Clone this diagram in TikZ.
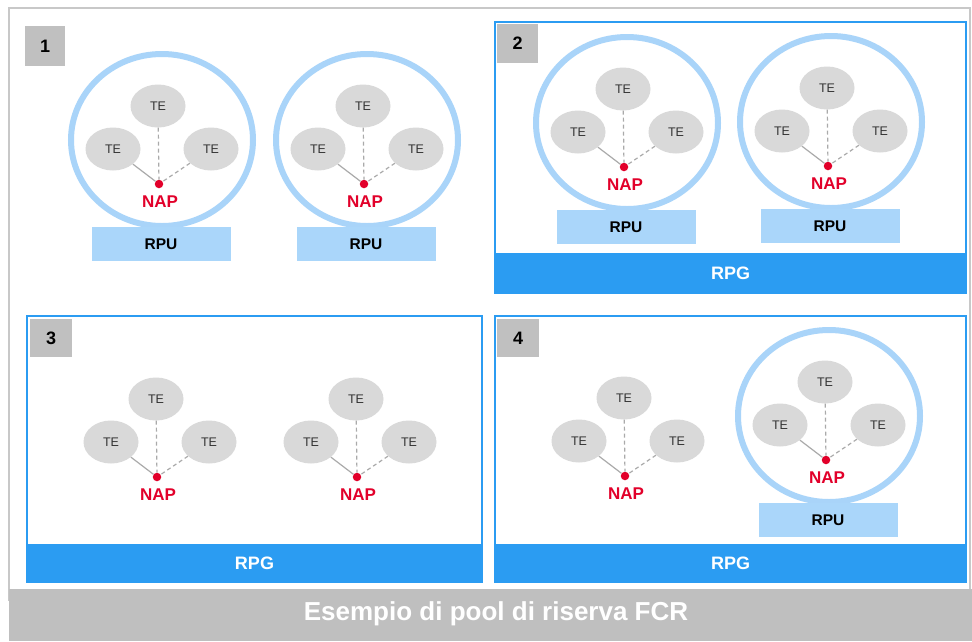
\documentclass[tikz,border=0pt]{standalone}
\usepackage{fontspec}
\setmainfont{Liberation Sans}
\usetikzlibrary{shapes.geometric}
\definecolor{rpgblue}{HTML}{2B9CF2}
\definecolor{ringblue}{HTML}{A9D4F9}
\definecolor{rpufill}{HTML}{AAD6FA}
\definecolor{labgray}{HTML}{C0C0C0}
\definecolor{titlegray}{HTML}{BFBFBF}
\definecolor{framegray}{HTML}{C8C8C8}
\definecolor{tegray}{HTML}{D9D9D9}
\definecolor{napred}{HTML}{E2002A}
\definecolor{linkgray}{HTML}{AAAAAA}
\tikzset{
  tenode/.style={ellipse, fill=tegray, minimum width=55pt, minimum height=43pt, inner sep=0pt,
    text=black!80, font=\fontsize{12.5}{13}\selectfont},
  napdot/.style={circle, fill=napred, minimum size=8.5pt, inner sep=0pt},
  naplabel/.style={text=napred, font=\fontsize{17}{18}\selectfont\bfseries, inner sep=0pt},
  linkline/.style={draw=linkgray, line width=1.2pt},
  dashline/.style={linkline, dash pattern=on 4pt off 3pt},
  ringshape/.style={ellipse, draw=ringblue, line width=6pt, minimum width=182pt, minimum height=172pt, inner sep=0pt},
  rpubox/.style={rectangle, fill=rpufill, minimum width=139pt, minimum height=34pt, inner sep=0pt,
    font=\fontsize{15.5}{16}\selectfont\bfseries},
  rpgbar/.style={rectangle, fill=rpgblue, inner sep=0pt, text=white, font=\fontsize{18}{19}\selectfont\bfseries},
  panelframe/.style={draw=rpgblue, line width=2.5pt, fill=white},
  numbox/.style={rectangle, fill=labgray, anchor=north west, inner sep=0pt, font=\fontsize{18}{19}\selectfont\bfseries},
}
\newcommand\tecl[3]{%
  \node[napdot] (#1nap) at (#2,#3) {};
  \node[tenode] (#1t) at ({#2-1},{#3-78}) {TE};
  \node[tenode] (#1l) at ({#2-46},{#3-35}) {TE};
  \node[tenode] (#1r) at ({#2+52},{#3-35}) {TE};
  \node[naplabel] (#1lab) at ({#2+1},{#3+18}) {NAP};
  \draw[linkline] (#1l) -- (#1nap);
  \draw[dashline] (#1t) -- (#1nap);
  \draw[dashline] (#1r) -- (#1nap);
}
\newcommand\ringrpu[3]{%
  \node[ringshape] (#1ring) at ({#2+3},{#3-44}) {};
  \node[rpubox] (#1rpu) at ({#2+2},{#3+60}) {RPU};
}
\begin{document}
\begin{tikzpicture}[x=1pt,y=-1pt]
\useasboundingbox (0,0) rectangle (972,641);
\fill[white] (0,0) rectangle (972,641);
% outer frame
\draw[framegray, line width=2pt] (9,8) rectangle (970,600);
% title bar
\node[rectangle, fill=titlegray, minimum width=963pt, minimum height=52pt, inner sep=0pt] (titlebar) at (490.5,615) {};
\node[text=white, font=\fontsize{26}{27}\selectfont\bfseries, inner sep=0pt] (title) at (496,614) {Esempio di pool di riserva FCR};

% panel 1
\node[numbox, minimum width=40pt, minimum height=40pt] (n1) at (25,26) {1};
\ringrpu{a}{159}{184}
\tecl{a}{159}{184}
\ringrpu{b}{364}{184}
\tecl{b}{364}{184}

% panel 2
\draw[panelframe] (495,22) rectangle (966,293);
\node[rpgbar, minimum width=471pt, minimum height=40pt] (rpg2) at (730.5,273) {RPG};
\node[numbox, minimum width=41pt, minimum height=39pt] (n2) at (497,24) {2};
\ringrpu{c}{624}{167}
\tecl{c}{624}{167}
\ringrpu{d}{828}{166}
\tecl{d}{828}{166}

% panel 3
\draw[panelframe] (27,316) rectangle (482,582);
\node[rpgbar, minimum width=455pt, minimum height=38pt] (rpg3) at (254.5,563) {RPG};
\node[numbox, minimum width=42pt, minimum height=38pt] (n3) at (30,319) {3};
\tecl{e}{157}{477}
\tecl{f}{357}{477}

% panel 4
\draw[panelframe] (495,316) rectangle (966,582);
\node[rpgbar, minimum width=471pt, minimum height=38pt] (rpg4) at (730.5,563) {RPG};
\node[numbox, minimum width=42pt, minimum height=38pt] (n4) at (497,319) {4};
\tecl{g}{625}{476}
\ringrpu{h}{826}{460}
\tecl{h}{826}{460}
\end{tikzpicture}
\end{document}
